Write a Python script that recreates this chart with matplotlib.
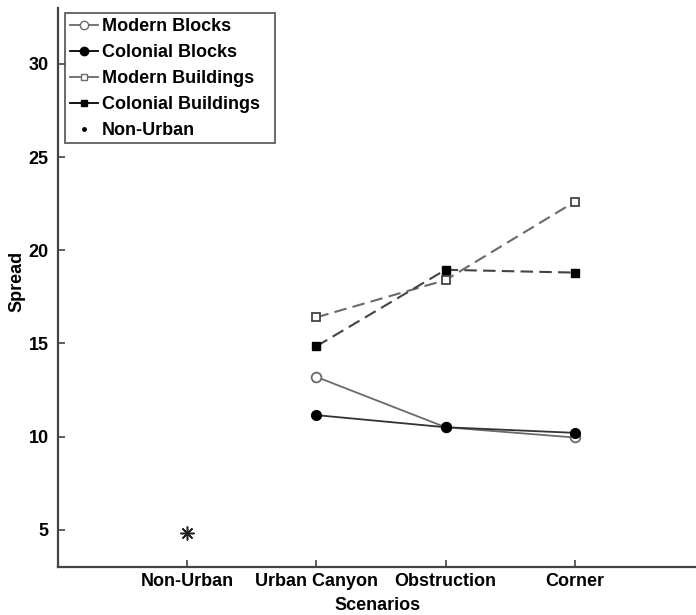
import matplotlib
matplotlib.use("Agg")
import matplotlib.pyplot as plt
from matplotlib.lines import Line2D

plt.rcParams['font.family'] = ['Liberation Sans', 'DejaVu Sans']

scenarios = ["Non-Urban", "Urban Canyon", "Obstruction", "Corner"]
urban_x = [2, 3, 4]
modern_blocks = [13.2, 10.5, 9.95]
colonial_blocks = [11.15, 10.5, 10.2]
modern_buildings = [16.4, 18.4, 22.6]
colonial_buildings = [14.85, 18.95, 18.8]
non_urban = [4.8]

fig = plt.figure(figsize=(6.96, 6.15), dpi=100)
ax = fig.add_axes([58.3 / 696, 48 / 615, (696 - 58.3) / 696, (607 - 48) / 615])

gray = "#6a6a6a"
ax.plot(urban_x, modern_blocks, '-', color=gray, lw=1.3, marker='o', ms=7,
        mfc='white', mec=gray, mew=1.3)
ax.plot(urban_x, colonial_blocks, '-', color="#333333", lw=1.3, marker='o', ms=7,
        mfc='black', mec='black')
ax.plot(urban_x, modern_buildings, '--', color=gray, lw=1.5, marker='s', ms=6,
        mfc='white', mec="#444444", mew=1.3, dashes=(6, 3))
ax.plot(urban_x, colonial_buildings, '--', color="#444444", lw=1.5, marker='s', ms=6,
        mfc='black', mec='black', dashes=(6, 3))
ax.plot([1], non_urban, linestyle='none', marker=(8, 2, 0), ms=10,
        color="#222222", mew=1.1)

ax.set_xlim(0, 4.94)
ax.set_ylim(3, 33)
ax.set_xticks([1, 2, 3, 4])
ax.set_xticklabels(scenarios)
ax.set_yticks([5, 10, 15, 20, 25, 30])
for lab in ax.get_xticklabels() + ax.get_yticklabels():
    lab.set_fontweight('bold')
    lab.set_fontsize(13)
ax.tick_params(direction='in', length=5, width=1.2, color="#444444")
ax.tick_params(axis='x', pad=4)
ax.tick_params(axis='y', pad=7)
ax.spines['top'].set_visible(False)
ax.spines['right'].set_visible(False)
for s in ('left', 'bottom'):
    ax.spines[s].set_linewidth(1.6)
    ax.spines[s].set_color("#444444")

ax.set_xlabel("Scenarios", fontweight='bold', fontsize=13, labelpad=5)
ax.set_ylabel("Spread", fontweight='bold', fontsize=13)
ax.yaxis.set_label_coords(-0.052, 0.51)

handles = [
    Line2D([], [], color=gray, lw=1.3, marker='o', ms=6, mfc='white', mec=gray),
    Line2D([], [], color='black', lw=1.3, marker='o', ms=6, mfc='black', mec='black'),
    Line2D([], [], color=gray, lw=1.3, marker='s', ms=5, mfc='white', mec=gray),
    Line2D([], [], color='black', lw=1.3, marker='s', ms=5, mfc='black', mec='black'),
    Line2D([], [], color='black', lw=0, marker='.', ms=5),
]
labels = ["Modern Blocks", "Colonial Blocks", "Modern Buildings",
          "Colonial Buildings", "Non-Urban"]
leg = ax.legend(handles, labels, loc='upper left',
                bbox_to_anchor=(0.0105, 0.5, 0.329, 0.4905), mode='expand',
                prop={'weight': 'bold', 'size': 13}, frameon=True, fancybox=False,
                handlelength=1.6, handletextpad=0.2, labelspacing=0.5,
                borderpad=0.25, borderaxespad=0)
leg.get_frame().set_edgecolor("#444444")
leg.get_frame().set_linewidth(1.4)

fig.savefig("out.png", dpi=100)
